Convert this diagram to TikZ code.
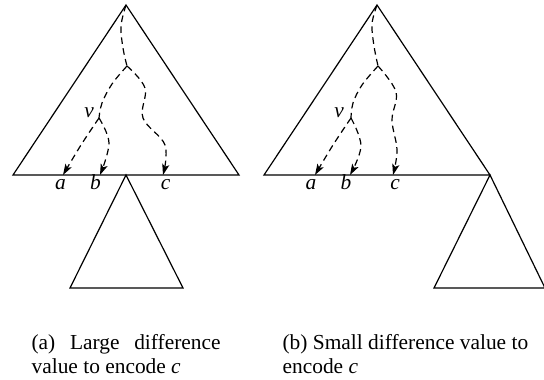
\documentclass[tikz,border=0pt]{standalone}
\usepackage{fontspec}
\setmainfont{Liberation Serif}
\usetikzlibrary{arrows.meta, positioning, calc}

\begin{document}
\begin{tikzpicture}[x=0.5pt, y=-0.5pt, line width=0.6pt,
    tri/.style={line join=miter},
    walk/.style={dash pattern=on 3.3pt off 2.2pt},
    walkto/.style={walk, -{Stealth[length=5.5pt, width=3.6pt, inset=1.3pt]}},
    lbl/.style={font=\fontsize{10.7}{12}\selectfont\itshape, inner sep=0pt, anchor=base},
    captext/.style={font=\fontsize{10.7}{12}\selectfont, align=left, inner sep=0pt, anchor=north west}]
    \useasboundingbox (0,0) rectangle (544,379);

    % Define points of tree (a)
    \coordinate (roota) at (126,5);
    \coordinate (bla) at (13,175);
    \coordinate (bra) at (239,175);
    \coordinate (suba) at (126,175);
    \coordinate (splita) at (127,66);
    \coordinate (va) at (99,118);
    \coordinate (aa) at (63,175);
    \coordinate (ba) at (100,175);
    \coordinate (ca) at (163,175);

    % Define points of tree (b)
    \coordinate (rootb) at (377,5);
    \coordinate (blb) at (264,175);
    \coordinate (brb) at (490,175);
    \coordinate (splitb) at (378,66);
    \coordinate (vb) at (351,118);
    \coordinate (ab) at (315,175);
    \coordinate (bb) at (350,175);
    \coordinate (cb) at (393,175);

    % Triangles
    \draw[tri] (roota) -- (bla) -- (bra) -- cycle;
    \draw[tri] (suba) -- (70,288) -- (183,288) -- cycle;
    \draw[tri] (rootb) -- (blb) -- (brb) -- cycle;
    \draw[tri] (brb) -- (434,288) -- (545,288) -- cycle;

    % Search paths in (a)
    \draw[walk] plot[smooth, tension=0.6] coordinates {(roota) (121,26) (123,48) (splita)};
    \draw[walk] plot[smooth, tension=0.6] coordinates {(splita) (112,84) (102,103) (va)};
    \draw[walkto] plot[smooth, tension=0.6] coordinates {(va) (81,145) (aa)};
    \draw[walkto] plot[smooth, tension=0.6] coordinates {(va) (109,143) (ba)};
    \draw[walkto] plot[smooth, tension=0.6] coordinates {(splita) (145,88) (143,118) (165,145) (ca)};

    % Search paths in (b)
    \draw[walk] plot[smooth, tension=0.6] coordinates {(rootb) (372,24) (374,46) (splitb)};
    \draw[walk] plot[smooth, tension=0.6] coordinates {(splitb) (362,85) (353,103) (vb)};
    \draw[walkto] plot[smooth, tension=0.6] coordinates {(vb) (333,145) (ab)};
    \draw[walkto] plot[smooth, tension=0.6] coordinates {(vb) (361,146) (bb)};
    \draw[walkto] plot[smooth, tension=0.6] coordinates {(splitb) (396,92) (392,120) (397,150) (cb)};

    % Labels
    \node[lbl] (lva) at (89,118) {v};
    \node[lbl] (laa) at (60.5,189) {a};
    \node[lbl] (lba) at (95.5,189) {b};
    \node[lbl] (lca) at (165.5,189) {c};
    \node[lbl] (lvb) at (339,118) {v};
    \node[lbl] (lab) at (311,189) {a};
    \node[lbl] (lbb) at (346,189) {b};
    \node[lbl] (lcb) at (395,189) {c};

    % Captions
    \node[captext] (capa) at (31,334) {\makebox[94.5pt][s]{(a) Large difference}\\value to encode \textit{c}};
    \node[captext] (capb) at (282,334) {(b) Small difference value to\\encode \textit{c}};
\end{tikzpicture}
\end{document}
